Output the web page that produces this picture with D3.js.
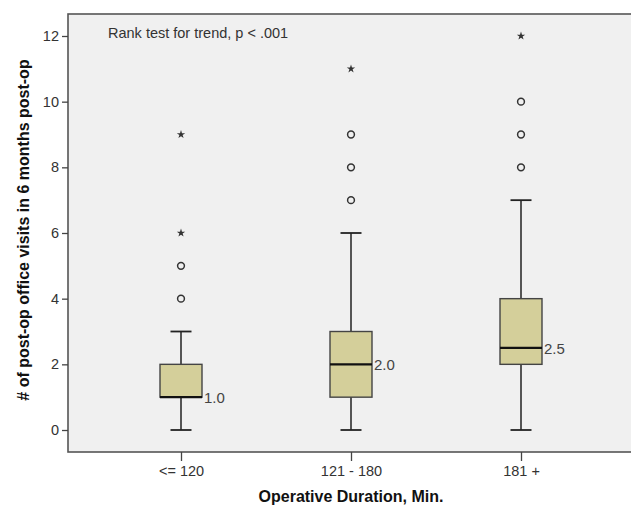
<!DOCTYPE html>
<html>
<head>
<meta charset="utf-8">
<title>Office visits by operative duration</title>
<style>
body { margin: 0; background: #fff; font-family: 'Liberation Sans', Arial, sans-serif; }
.tick-label { font-size: 14.5px; fill: #333; }
.axis-title { font-size: 16px; font-weight: bold; fill: #111; }
.median-label { font-size: 15px; fill: #444; }
</style>
<script src="https://cdn.jsdelivr.net/npm/d3@7/dist/d3.min.js"></script>
</head>
<body>
<script>
var categories = ["<= 120", "121 - 180", "181 +"];
var mins = [0, 0, 0];
var q1s = [1, 1, 2];
var medians = [1, 2, 2.5];
var q3s = [2, 3, 4];
var maxs = [3, 6, 7];
var circleOutliers = [[4, 5], [7, 8, 9], [8, 9, 10]];
var starOutliers = [[6, 9], [11], [12]];
var yTicks = [0, 2, 4, 6, 8, 10, 12];

var width = 631, height = 508;
var frame = {left: 68, right: 640, top: 14, bottom: 452};

var svg = d3.select("body").append("svg")
    .attr("width", width)
    .attr("height", height);

var y = d3.scaleLinear().domain([-0.67, 12.67]).range([frame.bottom, frame.top]);
var x = d3.scalePoint().domain(categories).range([181, 521]);

// plot area
svg.append("rect")
    .attr("x", frame.left).attr("y", frame.top)
    .attr("width", frame.right - frame.left).attr("height", frame.bottom - frame.top)
    .attr("fill", "#f0f0f0")
    .attr("stroke", "#555").attr("stroke-width", 1.6);

// y axis
var yAxis = svg.append("g")
    .attr("transform", "translate(" + frame.left + ",0)")
    .call(d3.axisLeft(y).tickValues(yTicks).tickSize(6).tickPadding(3));
yAxis.select(".domain").remove();
yAxis.selectAll(".tick line").attr("stroke", "#444").attr("stroke-width", 1.3);
yAxis.selectAll(".tick text").attr("class", "tick-label").attr("font-family", null).attr("font-size", null);

// x axis
var xAxis = svg.append("g")
    .attr("transform", "translate(0," + frame.bottom + ")")
    .call(d3.axisBottom(x).tickSize(9).tickPadding(5));
xAxis.select(".domain").remove();
xAxis.selectAll(".tick line").attr("stroke", "#444").attr("stroke-width", 1.3);
xAxis.selectAll(".tick text").attr("class", "tick-label").attr("font-family", null).attr("font-size", null);

var boxW = 42, capW = 21;
var groups = svg.selectAll(".box").data(categories).enter()
    .append("g").attr("class", "box")
    .attr("transform", function (d) { return "translate(" + x(d) + ",0)"; });

// whiskers
groups.append("line")
    .attr("x1", 0).attr("x2", 0)
    .attr("y1", function (d, i) { return y(maxs[i]); })
    .attr("y2", function (d, i) { return y(mins[i]); })
    .attr("stroke", "#222").attr("stroke-width", 1.5);
[mins, maxs].forEach(function (arr) {
    groups.append("line")
        .attr("x1", -capW / 2).attr("x2", capW / 2)
        .attr("y1", function (d, i) { return y(arr[i]); })
        .attr("y2", function (d, i) { return y(arr[i]); })
        .attr("stroke", "#222").attr("stroke-width", 1.8);
});

// boxes
groups.append("rect")
    .attr("x", -boxW / 2)
    .attr("y", function (d, i) { return y(q3s[i]); })
    .attr("width", boxW)
    .attr("height", function (d, i) { return y(q1s[i]) - y(q3s[i]); })
    .attr("fill", "#d4cf9a")
    .attr("stroke", "#444").attr("stroke-width", 1.4);

groups.append("line")
    .attr("x1", -boxW / 2).attr("x2", boxW / 2)
    .attr("y1", function (d, i) { return y(medians[i]); })
    .attr("y2", function (d, i) { return y(medians[i]); })
    .attr("stroke", "#111").attr("stroke-width", 2.2);

groups.append("text")
    .attr("class", "median-label")
    .attr("x", boxW / 2 + 2)
    .attr("y", function (d, i) { return y(medians[i]); })
    .attr("dy", "0.38em")
    .text(function (d, i) { return medians[i].toFixed(1); });

// outliers
groups.each(function (d, i) {
    var g = d3.select(this);
    g.selectAll(".out").data(circleOutliers[i]).enter()
        .append("circle")
        .attr("cx", 0).attr("cy", function (v) { return y(v); })
        .attr("r", 3.4)
        .attr("fill", "none").attr("stroke", "#333").attr("stroke-width", 1.5);
    g.selectAll(".ext").data(starOutliers[i]).enter()
        .append("path")
        .attr("d", d3.symbol().type(d3.symbolStar).size(22))
        .attr("transform", function (v) { return "translate(0," + y(v) + ")"; })
        .attr("fill", "#333");
});

// annotation
svg.append("text")
    .attr("class", "tick-label")
    .attr("x", 108).attr("y", 38)
    .text("Rank test for trend, p < .001");

// axis titles
svg.append("text")
    .attr("class", "axis-title")
    .attr("text-anchor", "middle")
    .attr("transform", "translate(29,230) rotate(-90)")
    .text("# of post-op office visits in 6 months post-op");

svg.append("text")
    .attr("class", "axis-title")
    .attr("text-anchor", "middle")
    .attr("x", 351).attr("y", 502)
    .text("Operative Duration, Min.");
</script>
</body>
</html>
